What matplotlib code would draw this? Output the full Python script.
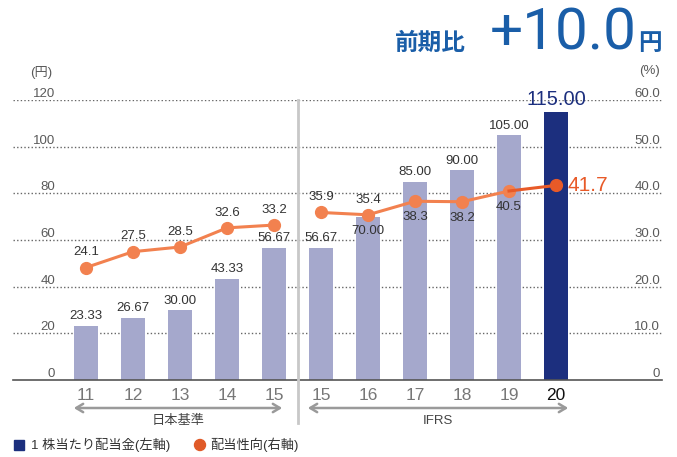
import numpy as np
import matplotlib.pyplot as plt
from matplotlib.patches import FancyArrowPatch, Ellipse, Rectangle
from matplotlib.transforms import blended_transform_factory

plt.rcParams['font.family'] = ['Liberation Sans', 'Noto Sans CJK JP', 'DejaVu Sans']

# data
years = ['11', '12', '13', '14', '15', '15', '16', '17', '18', '19', '20']
dividend = [23.33, 26.67, 30.00, 43.33, 56.67, 56.67, 70.00, 85.00, 90.00, 105.00, 115.00]
payout = [24.1, 27.5, 28.5, 32.6, 33.2, 35.9, 35.4, 38.3, 38.2, 40.5, 41.7]
payout_below = [False, False, False, False, False, False, False, True, True, True, False]
left_ticks = [0, 20, 40, 60, 80, 100, 120]
right_ticks = ['0', '10.0', '20.0', '30.0', '40.0', '50.0', '60.0']

bar_light = '#a5a8cc'
bar_dark = '#1c2f7e'
line_col = '#f2814f'
line_last = '#e85a28'
title_blue = '#1a5ea8'
txt = '#333333'

W, H = 677, 457
fig = plt.figure(figsize=(W / 100, H / 100), dpi=100)

def fx(px):
    return px / W

def fy(py):
    return 1 - py / H

ax = fig.add_axes([fx(13), fy(380), fx(662) - fx(13), fy(100) - fy(380)])
x = np.arange(len(years))
px_per_unit = 47.0
ax.set_xlim((13 - 86) / px_per_unit, (662 - 86) / px_per_unit)
ax.set_ylim(0, 120)
ax.set_xticks([])
ax.set_yticks([])
for s in ['top', 'left', 'right']:
    ax.spines[s].set_visible(False)
ax.spines['bottom'].set_color('#555555')
ax.spines['bottom'].set_linewidth(1.2)

# dotted grid
for t in left_ticks[1:]:
    ax.axhline(t, color='#666666', lw=1.0, ls=(0, (1, 1.6)), zorder=1)

# y labels (left, right) above the grid lines
tl = blended_transform_factory(fig.transFigure, ax.transData)
for t, rt in zip(left_ticks, right_ticks):
    ax.text(fx(55), t, str(t), transform=tl, ha='right', va='bottom',
            fontsize=9.5, color='#5a5a5a')
    ax.text(fx(660), t, rt, transform=tl, ha='right', va='bottom',
            fontsize=9.5, color='#5a5a5a')
fig.text(fx(41), fy(72), '(円)', ha='center', va='center', fontsize=9.5, color='#5a5a5a')
fig.text(fx(649), fy(71), '(%)', ha='center', va='center', fontsize=9.5, color='#5a5a5a')

# bars
colors = [bar_light] * (len(years) - 1) + [bar_dark]
ax.bar(x, dividend, width=24 / px_per_unit, color=colors, zorder=2)

# separator between accounting standards
fig.add_artist(plt.Line2D([fx(297.5), fx(297.5)], [fy(100), fy(423)], color='#c8c8c8', lw=2))

# line on secondary scale (0-60 % mapped onto 0-120)
ax2 = ax.twinx()
ax2.set_ylim(0, 60)
ax2.set_yticks([])
for s in ax2.spines.values():
    s.set_visible(False)
ax2.plot(x[:5], payout[:5], color=line_col, lw=2.2, marker='o', ms=8.5, zorder=3)
ax2.plot(x[5:10], payout[5:10], color=line_col, lw=2.2, marker='o', ms=8.5, zorder=3)
ax2.plot(x[9:11], payout[9:11], color=line_last, lw=2.2, zorder=3)
ax2.plot(x[10], payout[10], color=line_last, marker='o', ms=8.5, zorder=4)

# bar labels
for i, v in enumerate(dividend):
    if i == len(dividend) - 1:
        ax.annotate(f'{v:.2f}', (x[i], v), xytext=(0, 2), textcoords='offset points',
                    ha='center', va='bottom', fontsize=14.5, color=bar_dark)
    elif i == 6:
        ax.annotate(f'{v:.2f}', (x[i], v), xytext=(0, -10), textcoords='offset points',
                    ha='center', va='center', fontsize=9.5, color=txt, zorder=5)
    else:
        ax.annotate(f'{v:.2f}', (x[i], v), xytext=(0, 2.5), textcoords='offset points',
                    ha='center', va='bottom', fontsize=9.5, color=txt)

# payout labels
for i, v in enumerate(payout):
    if i == len(payout) - 1:
        ax2.annotate(f'{v:.1f}', (x[i], v), xytext=(8, 0), textcoords='offset points',
                     ha='left', va='center', fontsize=15, color=line_last)
    elif payout_below[i]:
        ax2.annotate(f'{v:.1f}', (x[i], v), xytext=(0, -11.5), textcoords='offset points',
                     ha='center', va='center', fontsize=9.5, color=txt, zorder=5)
    else:
        ax2.annotate(f'{v:.1f}', (x[i], v), xytext=(0, 11), textcoords='offset points',
                     ha='center', va='center', fontsize=9.5, color=txt, zorder=5)

# x labels
tx = blended_transform_factory(ax.transData, fig.transFigure)
for i, yl in enumerate(years):
    last = i == len(years) - 1
    ax.text(x[i], fy(395), yl, transform=tx, ha='center', va='center',
            fontsize=12.5, color='#111111' if last else '#777777')

# bracket arrows
for x0, x1, label in [(71, 285, '日本基準'), (305, 571, 'IFRS')]:
    fig.add_artist(FancyArrowPatch(
        (fx(x0), fy(408)), (fx(x1), fy(408)), transform=fig.transFigure,
        arrowstyle='<->,head_length=5,head_width=3', color='#9a9a9a', lw=1.8))
    fig.text(fx((x0 + x1) / 2), fy(421), label, ha='center', va='center',
             fontsize=9.5, color='#444444')

# legend
fig.patches.append(Rectangle((fx(14), fy(450)), fx(10), fy(440) - fy(450),
                             transform=fig.transFigure, color=bar_dark))
fig.text(fx(31), fy(445), '1 株当たり配当金(左軸)', ha='left', va='center',
         fontsize=9.5, color='#333333')
fig.add_artist(Ellipse((fx(200), fy(445)), fx(11), fy(434) - fy(445),
                       transform=fig.transFigure, color='#e05a28'))
fig.text(fx(210), fy(445), '配当性向(右軸)', ha='left', va='center',
         fontsize=9.5, color='#333333')

# headline
fig.text(fx(395), fy(50), '前期比', ha='left', va='baseline', fontsize=17,
         fontweight='bold', color=title_blue)
fig.text(fx(490), fy(50), '+10.0', ha='left', va='baseline', fontsize=42,
         family=['Roboto', 'Liberation Sans'], fontweight='normal', color=title_blue)
fig.text(fx(638), fy(50), '円', ha='left', va='baseline', fontsize=17,
         fontweight='bold', color=title_blue)

fig.savefig('out.png', dpi=100)
